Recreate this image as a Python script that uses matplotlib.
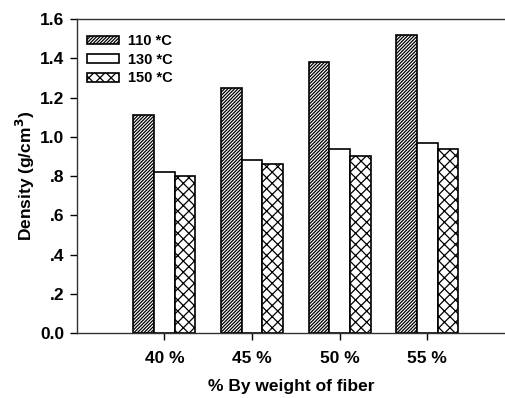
import matplotlib.pyplot as plt
import numpy as np

plt.rcParams['font.family'] = ['Liberation Sans', 'DejaVu Sans']
plt.rcParams['font.weight'] = 'bold'
plt.rcParams['hatch.linewidth'] = 0.9

categories = ['40 %', '45 %', '50 %', '55 %']
d110 = [1.11, 1.25, 1.38, 1.52]
d130 = [0.82, 0.88, 0.94, 0.97]
d150 = [0.80, 0.86, 0.90, 0.94]
series_labels = ['110 *C', '130 *C', '150 *C']
yticks = [0.0, 0.2, 0.4, 0.6, 0.8, 1.0, 1.2, 1.4, 1.6]
ytick_labels = ['0.0', '.2', '.4', '.6', '.8', '1.0', '1.2', '1.4', '1.6']

fig = plt.figure(figsize=(5.06, 3.98), dpi=100)
ax = fig.add_axes([0.152, 0.163, 0.848, 0.789])

x = np.arange(len(categories))
w = 0.236
hatches = ['//////////', '', 'xxx']
for i, (vals, lab) in enumerate(zip([d110, d130, d150], series_labels)):
    ax.bar(x + (i - 1) * w, vals, w, color='white', edgecolor='black',
           linewidth=1.2, hatch=hatches[i], label=lab)

ax.set_xlim(-1.0, 3.9)
ax.set_ylim(0, 1.6)
ax.set_xticks(x)
ax.set_xticklabels(categories, fontsize=12.5, fontweight='bold')
ax.set_yticks(yticks)
ax.set_yticklabels(ytick_labels, fontsize=12.5, fontweight='bold')
ax.tick_params(axis='both', direction='out', length=5, width=1, pad=4)
ax.tick_params(axis='x', pad=8)
ax.spines['right'].set_visible(False)
for s in ['left', 'top', 'bottom']:
    ax.spines[s].set_linewidth(1.0)
    ax.spines[s].set_color('#333333')

ax.set_xlabel('% By weight of fiber', fontsize=12.5, fontweight='bold', labelpad=9)
ax.set_ylabel('Density (g/cm$^\\mathbf{3}$)', fontsize=12.5, fontweight='bold', labelpad=2)

leg = ax.legend(loc='upper left', bbox_to_anchor=(-0.002, 0.987), frameon=False,
                fontsize=10.5, handlelength=2.2, handleheight=0.55,
                labelspacing=0.32, handletextpad=0.6, borderaxespad=0.35)

fig.savefig('out.png', dpi=100)
